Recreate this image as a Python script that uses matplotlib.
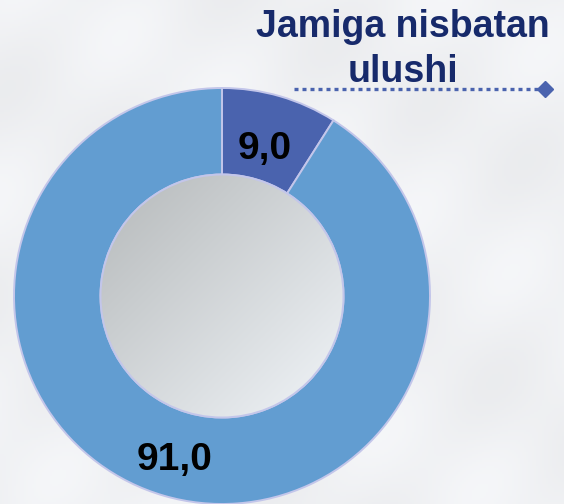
import numpy as np
import matplotlib
matplotlib.use("Agg")
import matplotlib.pyplot as plt
from matplotlib.patches import Circle

# ---- data ----
categories = ["Jamiga nisbatan ulushi", "Boshqa"]
values = [9.0, 91.0]
value_labels = ["9,0", "91,0"]
title_lines = ["Jamiga nisbatan", "ulushi"]
colors = ["#4a63ae", "#629dd1"]

W, H = 564, 504
fig = plt.figure(figsize=(W / 100, H / 100), dpi=100)
ax = fig.add_axes([0, 0, 1, 1])

# background: light, slightly textured
yy, xx = np.mgrid[0:H:2, 0:W:2]
bg = 0.955 + 0.012 * np.sin((xx * 0.6 + yy) / 38.0) + 0.008 * np.sin((xx - yy * 0.8) / 23.0)
bg_rgb = np.dstack([bg * 0.985, bg * 0.99, bg])
ax.imshow(np.clip(bg_rgb, 0, 1), extent=[0, W, 0, H], origin="lower", zorder=0)

cx, cy, R = 222, 208, 208
inner_r = 121.5
wedges, _ = ax.pie(values, colors=colors, startangle=90, counterclock=False,
                   radius=R, center=(cx, cy), frame=True,
                   wedgeprops=dict(width=R - inner_r, edgecolor="#c3c6ea", linewidth=1.4))
for w in wedges:
    w.set_zorder(2)
ax.set_xlim(0, W)
ax.set_ylim(0, H)
ax.set_aspect("equal")
ax.axis("off")

# inner gradient circle: dark top-left -> light bottom-right
gy, gx = np.mgrid[0:1:200j, 0:1:200j]   # gy=0 bottom row (origin lower)
t = (gx + (1 - gy)) / 2.0
c0 = np.array([0.71, 0.725, 0.73])
c1 = np.array([0.945, 0.96, 0.975])
grad = c0[None, None, :] + (c1 - c0)[None, None, :] * t[..., None]
im = ax.imshow(grad, extent=[cx - inner_r, cx + inner_r, cy - inner_r, cy + inner_r],
               origin="lower", zorder=3)
clip = Circle((cx, cy), inner_r, transform=ax.transData)
im.set_clip_path(clip)
ax.add_patch(Circle((cx, cy), inner_r, facecolor="none", edgecolor="#c3c6ea",
                    linewidth=1.4, zorder=4))

# value labels at slice mid-angles
label_dist = [0.737, 0.82]
for w, lab, d in zip(wedges, value_labels, label_dist):
    ang = np.deg2rad((w.theta1 + w.theta2) / 2.0)
    x = cx + R * d * np.cos(ang)
    y = cy + R * d * np.sin(ang)
    ax.text(x, y, lab, ha="center", va="center", fontsize=28, fontweight="bold",
            family="Liberation Sans", color="black", zorder=5)

# title
ax.text(403, H - 37, title_lines[0], ha="center", va="baseline", fontsize=27,
        fontweight="bold", family="Liberation Sans", color="#172a6b", zorder=5)
ax.text(403, H - 82, title_lines[1], ha="center", va="baseline", fontsize=27,
        fontweight="bold", family="Liberation Sans", color="#172a6b", zorder=5)

# dotted leader with diamond end
ax.plot([294, 540], [H - 89, H - 89], linestyle=(0, (1.2, 1.2)), linewidth=2.4,
        color="#4a63ae", zorder=5, solid_capstyle="butt", dash_capstyle="butt")
ax.plot([545], [H - 89], marker="D", markersize=8, color="#4a63ae", zorder=5)

fig.savefig("out.png", dpi=100)
